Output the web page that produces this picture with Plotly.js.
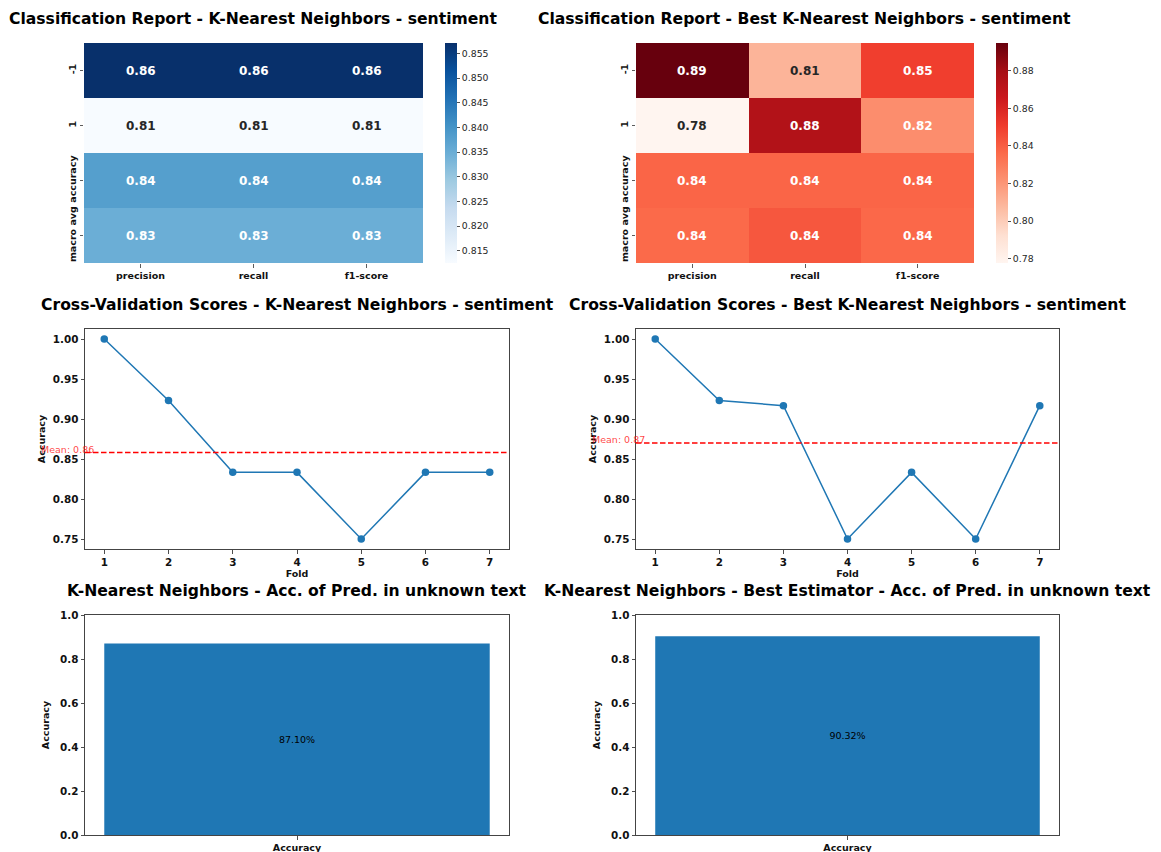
<!DOCTYPE html>
<html>
<head>
<meta charset="utf-8">
<script src="https://cdn.plot.ly/plotly-3.0.1.min.js"></script>
<style>html,body{margin:0;padding:0;background:#fff;}#chart{width:1161px;height:852px;}</style>
</head>
<body>
<div id="chart"></div>
<script>
// ---------- data ----------
const metrics = ['precision', 'recall', 'f1-score'];
const reportRows = ['-1', '1', 'accuracy', 'macro avg'];
const knnReport = [
  [0.8571, 0.8571, 0.8571],
  [0.8125, 0.8125, 0.8125],
  [0.8378, 0.8378, 0.8378],
  [0.8348, 0.8348, 0.8348]
];
const bestKnnReport = [
  [0.8947, 0.8095, 0.8500],
  [0.7778, 0.8750, 0.8235],
  [0.8378, 0.8378, 0.8378],
  [0.8363, 0.8423, 0.8368]
];
const folds = [1, 2, 3, 4, 5, 6, 7];
const knnCvScores = [1.0, 0.9231, 0.8333, 0.8333, 0.75, 0.8333, 0.8333];
const bestKnnCvScores = [1.0, 0.9231, 0.9167, 0.75, 0.8333, 0.75, 0.9167];
const accLabel = ['Accuracy'];
const knnTestAcc = [0.8710];
const bestKnnTestAcc = [0.9032];
const blueTicks = [0.815, 0.82, 0.825, 0.83, 0.835, 0.84, 0.845, 0.85, 0.855];
const redTicks = [0.78, 0.80, 0.82, 0.84, 0.86, 0.88];

// ---------- styles ----------
const W = 1161, H = 852;
const FONT = 'DejaVu Sans';
const TXT = '#262626';
const BLUE = '#1f77b4';
const Blues = [[0,'rgb(247,251,255)'],[0.125,'rgb(222,235,247)'],[0.25,'rgb(198,219,239)'],[0.375,'rgb(158,202,225)'],[0.5,'rgb(107,174,214)'],[0.625,'rgb(66,146,198)'],[0.75,'rgb(33,113,181)'],[0.875,'rgb(8,81,156)'],[1,'rgb(8,48,107)']];
const Reds = [[0,'rgb(255,245,240)'],[0.125,'rgb(254,224,210)'],[0.25,'rgb(252,187,161)'],[0.375,'rgb(252,146,114)'],[0.5,'rgb(251,106,74)'],[0.625,'rgb(239,59,44)'],[0.75,'rgb(203,24,29)'],[0.875,'rgb(165,15,21)'],[1,'rgb(103,0,13)']];

const px = (a, b) => [a / W, b / W];
const py = (top, bottom) => [1 - bottom / H, 1 - top / H];

const catTickFont = {family: FONT, size: 9.5, color: '#111', weight: 'bold'};
const numTickFont = {family: FONT, size: 10.4, color: '#111', weight: 'bold'};
const titleFont = {family: FONT, size: 9.5, color: '#111', weight: 'bold'};

function heatAxes(xd, yd) {
  return [{
    domain: xd, range: [-0.5, 2.5], tickvals: [0, 1, 2], ticktext: metrics,
    ticks: 'outside', ticklen: 3.5, tickwidth: 0.8, tickcolor: '#333',
    showgrid: false, zeroline: false, showline: false, tickfont: catTickFont, fixedrange: true
  }, {
    domain: yd, range: [3.5, -0.5], tickvals: [0, 1, 2, 3], ticktext: reportRows, tickangle: -90,
    ticks: 'outside', ticklen: 3.5, tickwidth: 0.8, tickcolor: '#333',
    showgrid: false, zeroline: false, showline: false, tickfont: catTickFont, fixedrange: true
  }];
}
function frameAxis(d, extra) {
  return Object.assign({
    domain: d, showline: true, mirror: true, linecolor: '#444', linewidth: 1,
    ticks: 'outside', ticklen: 3.5, tickwidth: 0.8, tickcolor: '#222',
    showgrid: false, zeroline: false, tickfont: numTickFont, fixedrange: true
  }, extra);
}

const hm1x = px(84, 423), hm1y = py(43, 263);
const hm2x = px(636, 974), hm2y = py(43, 263);
const ln1x = px(85, 509), ln2x = px(636, 1059), lny = py(329, 549);
const bar1x = px(85, 509), bar2x = px(636, 1059), bary = py(615, 835);

const h1 = heatAxes(hm1x, hm1y), h2 = heatAxes(hm2x, hm2y);
const foldRange = [0.7, 7.3];
const cvRange = [0.7375, 1.0125];

function lineX(d) {
  return frameAxis(d, {range: foldRange, tickvals: folds, title: {text: 'Fold', font: titleFont, standoff: 3}});
}
function lineY(d) {
  return frameAxis(d, {range: cvRange, dtick: 0.05, tick0: 0.75, tickformat: '.2f', title: {text: 'Accuracy', font: titleFont, standoff: 5}});
}
function barX(d) {
  return frameAxis(d, {type: 'category', range: [-0.44, 0.44], tickfont: catTickFont});
}
function barY(d) {
  return frameAxis(d, {range: [0, 1], dtick: 0.2, tickformat: '.1f', title: {text: 'Accuracy', font: titleFont, standoff: 8}});
}

function heatTrace(z, scale, xa, ya, cbx, ticks, fmt) {
  return {
    type: 'heatmap', x: [0, 1, 2], y: [0, 1, 2, 3], z: z, colorscale: scale,
    xaxis: xa, yaxis: ya, hoverinfo: 'skip',
    colorbar: {
      x: cbx, xanchor: 'left', xref: 'paper', xpad: 0, ypad: 0,
      y: (hm1y[0] + hm1y[1]) / 2, yanchor: 'middle', len: 220, lenmode: 'pixels',
      thickness: 12, thicknessmode: 'pixels', outlinewidth: 0,
      tickvals: ticks, tickformat: fmt, ticks: 'outside', ticklen: 3.5, tickwidth: 0.8, tickcolor: TXT,
      tickfont: {family: FONT, size: 9.3, color: TXT, weight: 'normal'}
    }
  };
}

function cellAnnotations(z, xa, ya) {
  let flat = z.flat();
  let mn = Math.min(...flat), mx = Math.max(...flat);
  let out = [];
  z.forEach((row, r) => row.forEach((v, c) => {
    let t = (v - mn) / (mx - mn);
    out.push({
      xref: xa, yref: ya, x: c, y: r, text: '<b>' + v.toFixed(2) + '</b>', showarrow: false,
      font: {family: FONT, size: 12, color: t < 0.3 ? TXT : '#ffffff'}
    });
  }));
  return out;
}

function lineTrace(y, xa, ya) {
  return {type: 'scatter', mode: 'lines+markers', x: folds, y: y, xaxis: xa, yaxis: ya,
    line: {color: BLUE, width: 1.5}, marker: {color: BLUE, size: 7.5}, hoverinfo: 'skip', cliponaxis: false};
}
function barTrace(v, xa, ya) {
  return {type: 'bar', x: accLabel, y: v, width: 0.8, xaxis: xa, yaxis: ya,
    marker: {color: BLUE}, text: v.map(a => (a * 100).toFixed(2) + '%'),
    textposition: 'inside', insidetextanchor: 'middle', constraintext: 'none',
    textfont: {family: FONT, size: 9.5, color: '#000', weight: 'normal'}, hoverinfo: 'skip'};
}

const mean = a => a.reduce((s, v) => s + v, 0) / a.length;
function meanShapes(scores, xa, ya) {
  let m = mean(scores);
  return {type: 'line', xref: xa + ' domain', yref: ya, x0: 0, x1: 1, y0: m, y1: m,
    line: {color: 'rgb(255,0,0)', width: 1.5, dash: '5.5px,2.5px'}};
}
function meanLabel(scores, xa, ya) {
  let m = mean(scores);
  return {xref: xa + ' domain', yref: ya, x: (0 - foldRange[0]) / (foldRange[1] - foldRange[0]), y: m,
    xanchor: 'left', yanchor: 'bottom', showarrow: false, text: 'Mean: ' + m.toFixed(2),
    font: {family: FONT, size: 9.5, color: 'rgba(255,0,0,0.75)', weight: 'normal'}, borderpad: 0, yshift: -3};
}

function title(text, xd, yc) {
  return {xref: 'paper', yref: 'paper', x: (xd[0] + xd[1]) / 2, y: 1 - yc / H, xanchor: 'center', yanchor: 'middle',
    showarrow: false, text: '<b>' + text + '</b>', font: {family: FONT, size: 15.6, color: '#000'}};
}

const data = [
  heatTrace(knnReport, Blues, 'x', 'y', 445 / W, blueTicks, '.3f'),
  heatTrace(bestKnnReport, Reds, 'x2', 'y2', 996 / W, redTicks, '.2f'),
  lineTrace(knnCvScores, 'x3', 'y3'),
  lineTrace(bestKnnCvScores, 'x4', 'y4'),
  barTrace(knnTestAcc, 'x5', 'y5'),
  barTrace(bestKnnTestAcc, 'x6', 'y6')
];

const layout = {
  width: W, height: H, margin: {l: 0, r: 0, t: 0, b: 0},
  paper_bgcolor: '#fff', plot_bgcolor: '#fff', showlegend: false,
  font: {family: FONT, color: TXT, weight: 'normal'},
  xaxis: Object.assign(h1[0], {anchor: 'y'}), yaxis: Object.assign(h1[1], {anchor: 'x'}),
  xaxis2: Object.assign(h2[0], {anchor: 'y2'}), yaxis2: Object.assign(h2[1], {anchor: 'x2'}),
  xaxis3: Object.assign(lineX(ln1x), {anchor: 'y3'}), yaxis3: Object.assign(lineY(lny), {anchor: 'x3'}),
  xaxis4: Object.assign(lineX(ln2x), {anchor: 'y4'}), yaxis4: Object.assign(lineY(lny), {anchor: 'x4'}),
  xaxis5: Object.assign(barX(bar1x), {anchor: 'y5'}), yaxis5: Object.assign(barY(bary), {anchor: 'x5'}),
  xaxis6: Object.assign(barX(bar2x), {anchor: 'y6'}), yaxis6: Object.assign(barY(bary), {anchor: 'x6'}),
  shapes: [meanShapes(knnCvScores, 'x3', 'y3'), meanShapes(bestKnnCvScores, 'x4', 'y4')],
  annotations: [].concat(
    cellAnnotations(knnReport, 'x', 'y'),
    cellAnnotations(bestKnnReport, 'x2', 'y2'),
    [meanLabel(knnCvScores, 'x3', 'y3'), meanLabel(bestKnnCvScores, 'x4', 'y4'),
     title('Classification Report - K-Nearest Neighbors - sentiment', hm1x, 19),
     title('Classification Report - Best K-Nearest Neighbors - sentiment', hm2x, 19),
     title('Cross-Validation Scores - K-Nearest Neighbors - sentiment', ln1x, 305),
     title('Cross-Validation Scores - Best K-Nearest Neighbors - sentiment', ln2x, 305),
     title('K-Nearest Neighbors - Acc. of Pred. in unknown text', bar1x, 591),
     title('K-Nearest Neighbors - Best Estimator - Acc. of Pred. in unknown text', bar2x, 591)]
  )
};

Plotly.newPlot('chart', data, layout, {displayModeBar: false, staticPlot: true});
</script>
</body>
</html>
